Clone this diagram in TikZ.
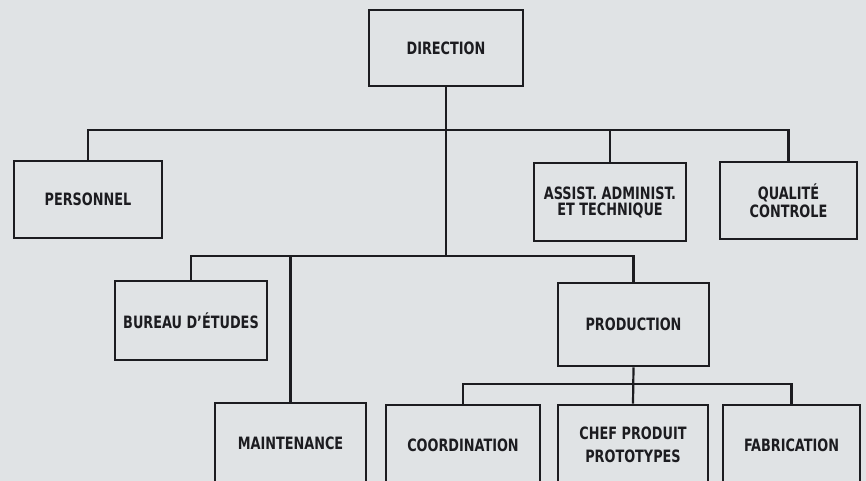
\documentclass[tikz,border=0pt]{standalone}
\usepackage{fontspec}
\setmainfont[FakeStretch=0.84]{DejaVu Sans Condensed}
\definecolor{paper}{RGB}{224,227,229}
\definecolor{ink}{RGB}{28,28,32}

\begin{document}
\begin{tikzpicture}[x=1pt, y=-1pt, font=\bfseries\fontsize{17}{18}\selectfont, text=ink,
box/.style={draw=ink,line width=2.6pt,inner sep=0pt,align=center},
link/.style={draw=ink,line width=2.2pt}]
\clip (0,0) rectangle (866,481);
\fill[paper] (0,0) rectangle (866,481);
% top level
\node[box,minimum width=154,minimum height=76] (direction) at (446,48) {DIRECTION};
\node[box,minimum width=148,minimum height=77] (personnel) at (88,199.5) {PERSONNEL};
\node[box,minimum width=152,minimum height=78] (assist) at (610,202) {ASSIST. ADMINIST.\\[-2pt]ET TECHNIQUE};
\node[box,minimum width=137,minimum height=77] (qualite) at (788.5,200.5) {QUALITÉ\\CONTROLE};
% second level
\node[box,minimum width=152,minimum height=79] (bureau) at (191,320.5) {BUREAU D'ÉTUDES};
\node[box,minimum width=151,minimum height=83] (production) at (633.5,324.5) {PRODUCTION};
\node[box,minimum width=151,minimum height=80] (maintenance) at (290.5,443) {MAINTENANCE};
% under production
\node[box,minimum width=154,minimum height=80] (coordination) at (463,445) {COORDINATION};
\node[box,minimum width=150,minimum height=80] (chef) at (633,445) {CHEF PRODUIT\\[5pt]PROTOTYPES};
\node[box,minimum width=137,minimum height=80] (fabrication) at (791.5,445) {FABRICATION};
\coordinate (busA) at (446,130); \coordinate (busB) at (446,256); \coordinate (busC) at (633,384);
\draw[link] (direction.south) -- (direction.south |- busB);
\draw[link] (personnel.north) |- (busA) -| (qualite.north); \draw[link] (assist.north) -- (assist.north |- busA);
\draw[link] (bureau.north) |- (busB) -| (production.north); \draw[link] (maintenance.north) -- (maintenance.north |- busB);
\draw[link] (production.south) -- (chef.north);
\draw[link] (coordination.north) |- (busC) -| (fabrication.north);
\end{tikzpicture}
\end{document}
